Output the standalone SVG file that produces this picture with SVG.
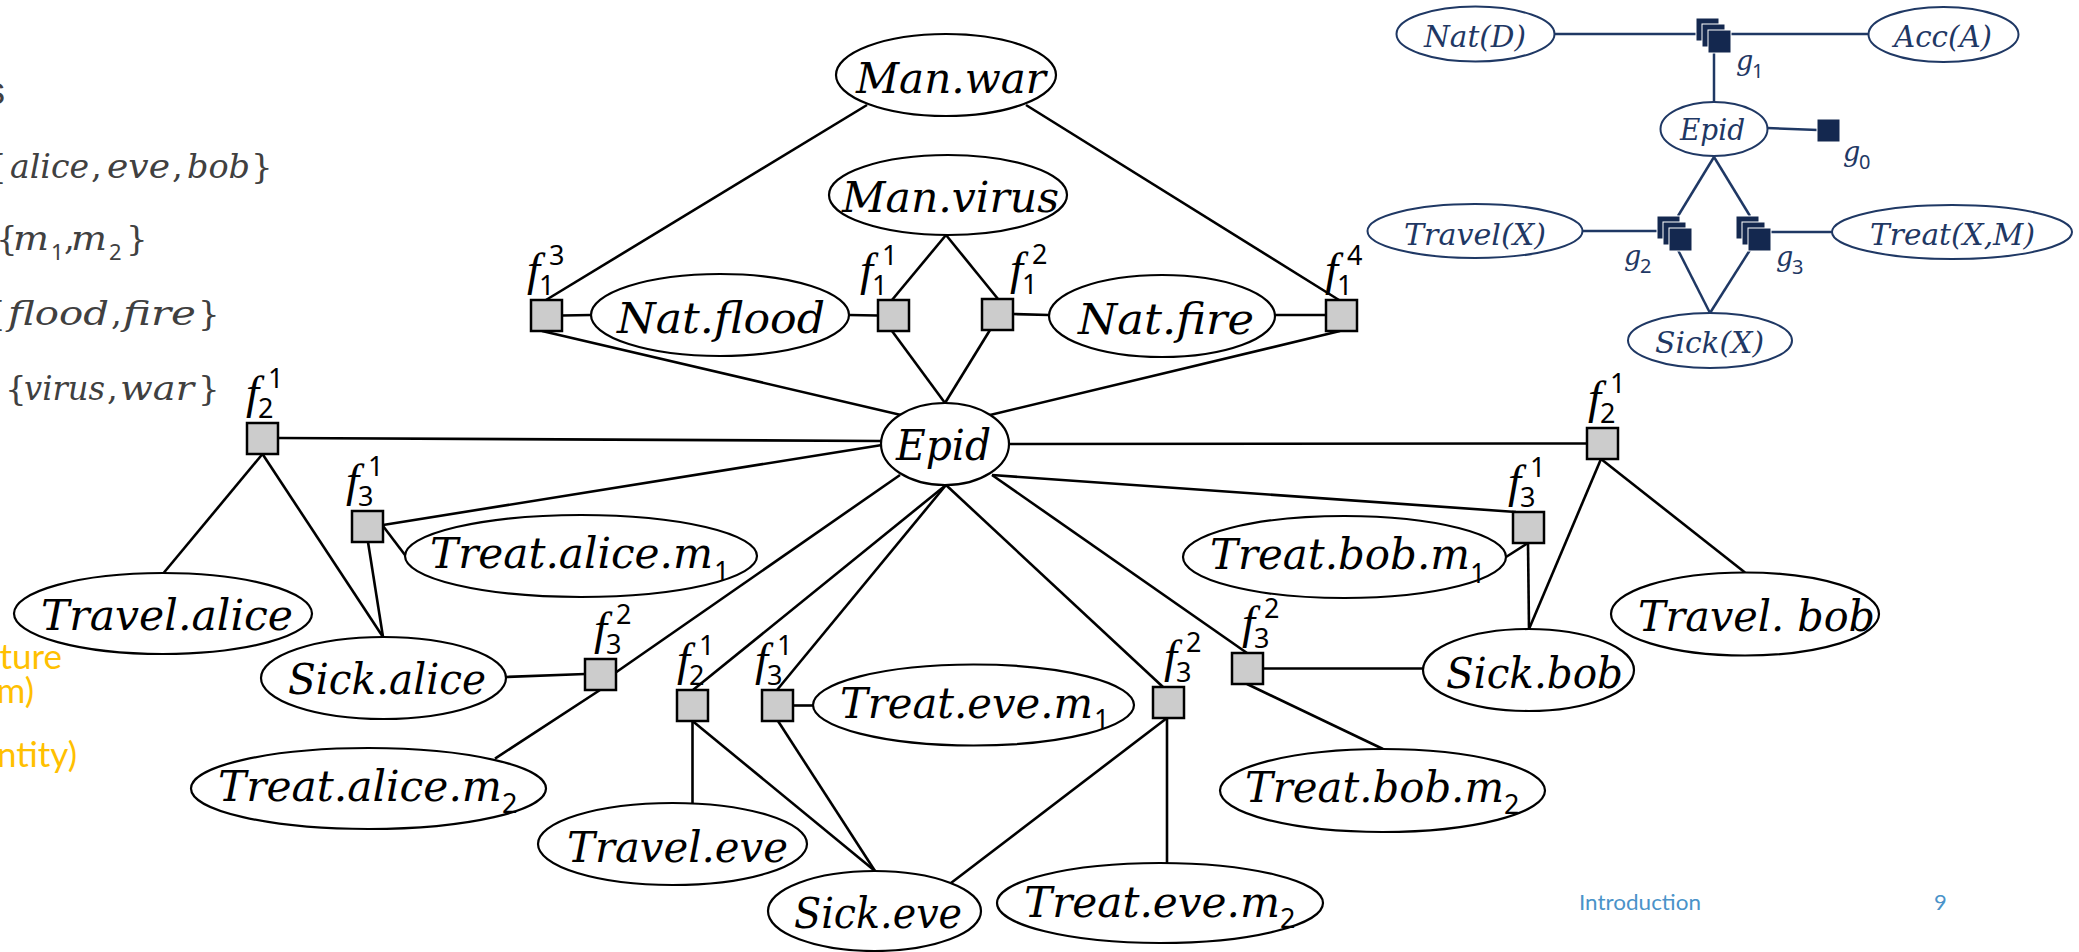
<svg xmlns="http://www.w3.org/2000/svg" width="2079" height="952" viewBox="0 0 2079 952">
<style>
.e{fill:#fff;stroke:#000;stroke-width:2.2}
.b{fill:#cccccc;stroke:#000;stroke-width:2.5}
.c line{stroke:#000;stroke-width:2.6}
.t{font-family:"DejaVu Serif",serif;font-style:italic;font-size:43px;fill:#000}
.d{font-family:"Noto Sans",sans-serif;font-size:27px;fill:#000}
.f{font-family:"Liberation Serif",serif;font-style:italic;font-size:47px;fill:#000}
.gi{font-family:"DejaVu Serif",serif;font-style:italic;font-size:34px;fill:#404040}
.gu{font-family:"DejaVu Serif",serif;font-size:34px;fill:#404040}
.gd{font-family:"Noto Sans",sans-serif;font-size:22px;fill:#404040}
.or{font-family:Lato,"Open Sans",sans-serif;font-size:35px;fill:#FFC000}
.ft{font-family:Lato,"Open Sans",sans-serif;font-size:22px;fill:#4A93C9}
.ne{fill:#fff;stroke:#1F3864;stroke-width:2}
.nt{font-family:"DejaVu Serif",serif;font-style:italic;font-size:29px;fill:#1F3864}
.ng{font-family:"DejaVu Serif",serif;font-style:italic;font-size:27px;fill:#1F3864}
.nd{font-family:"Noto Sans",sans-serif;font-size:20px;fill:#1F3864}
.nc line{stroke:#1F3864;stroke-width:2.5}
.sq{fill:#14284F;stroke:#fff;stroke-width:1}
</style>
<rect width="2079" height="952" fill="#fff"/>

<!-- left slide text -->
<g id="slide-text">
<text x="5" y="104" text-anchor="end" style="font-family:'Liberation Sans',sans-serif;font-size:38px;fill:#404040">s</text>
<text class="gu" x="7" y="178" text-anchor="end">{</text>
<text class="gi" x="10" y="178" textLength="79" lengthAdjust="spacingAndGlyphs">alice</text>
<text class="gu" x="91" y="178">,</text>
<text class="gi" x="107" y="178" textLength="63" lengthAdjust="spacingAndGlyphs">eve</text>
<text class="gu" x="172" y="178">,</text>
<text class="gi" x="187" y="178" textLength="63" lengthAdjust="spacingAndGlyphs">bob</text>
<text class="gu" x="251" y="178">}</text>

<text class="gu" x="-4" y="250">{</text>
<text class="gi" x="13" y="250" textLength="36" lengthAdjust="spacingAndGlyphs">m</text>
<text class="gd" x="51" y="260">1</text>
<text class="gu" x="64" y="250">,</text>
<text class="gi" x="71" y="250" textLength="36" lengthAdjust="spacingAndGlyphs">m</text>
<text class="gd" x="109" y="260">2</text>
<text class="gu" x="126" y="250">}</text>

<text class="gu" x="6" y="325" text-anchor="end">{</text>
<text class="gi" x="8" y="325" textLength="101" lengthAdjust="spacingAndGlyphs">flood</text>
<text class="gu" x="111" y="325">,</text>
<text class="gi" x="123" y="325" textLength="73" lengthAdjust="spacingAndGlyphs">fire</text>
<text class="gu" x="198" y="325">}</text>

<text class="gu" x="5" y="400">{</text>
<text class="gi" x="24" y="400" textLength="81" lengthAdjust="spacingAndGlyphs">virus</text>
<text class="gu" x="107" y="400">,</text>
<text class="gi" x="120" y="400" textLength="74" lengthAdjust="spacingAndGlyphs">war</text>
<text class="gu" x="198" y="400">}</text>

<text class="or" x="62" y="669" text-anchor="end">ture</text>
<text class="or" x="34" y="703" text-anchor="end">m)</text>
<text class="or" x="77" y="767" text-anchor="end">ntity)</text>

<text class="ft" x="1579" y="910" textLength="122" lengthAdjust="spacingAndGlyphs">Introduction</text>
<text class="ft" x="1934" y="910">9</text>
</g>

<!-- connectors of ground graph -->
<g id="connectors" class="c">
<line x1="867" y1="105" x2="546" y2="300"/>
<line x1="1026" y1="105" x2="1339" y2="300"/>
<line x1="946" y1="235" x2="892" y2="300"/>
<line x1="946" y1="235" x2="998" y2="299"/>
<line x1="562" y1="315.5" x2="591" y2="315"/>
<line x1="849" y1="315" x2="878" y2="315.5"/>
<line x1="1013" y1="314" x2="1049" y2="315"/>
<line x1="1275" y1="315" x2="1326" y2="315"/>
<line x1="542" y1="331" x2="901" y2="415"/>
<line x1="892" y1="331" x2="945" y2="403"/>
<line x1="990" y1="330" x2="945" y2="403"/>
<line x1="1340" y1="331" x2="990" y2="415"/>
<line x1="278" y1="438" x2="881" y2="441"/>
<line x1="383" y1="525" x2="882" y2="445"/>
<line x1="1009" y1="444" x2="1587" y2="443.5"/>
<line x1="992" y1="475" x2="1516" y2="512"/>
<line x1="992" y1="475" x2="1247" y2="653"/>
<line x1="946" y1="485" x2="1163" y2="687"/>
<line x1="946" y1="485" x2="693" y2="690"/>
<line x1="946" y1="485" x2="777" y2="690"/>
<line x1="900" y1="475" x2="615" y2="673"/>
<line x1="600" y1="690" x2="495" y2="758.6"/>
<line x1="585" y1="674" x2="506" y2="677"/>
<line x1="262.5" y1="454" x2="163.6" y2="573"/>
<line x1="262.5" y1="454" x2="383" y2="637"/>
<line x1="368" y1="542" x2="383" y2="637"/>
<line x1="383" y1="526" x2="405" y2="555"/>
<line x1="692.5" y1="721" x2="692.5" y2="803"/>
<line x1="692.5" y1="721" x2="875" y2="871"/>
<line x1="778" y1="721" x2="875" y2="871"/>
<line x1="793" y1="705.5" x2="813" y2="705.5"/>
<line x1="1167" y1="718" x2="951" y2="883"/>
<line x1="1167" y1="718" x2="1167" y2="863"/>
<line x1="1263" y1="668.5" x2="1423" y2="668.5"/>
<line x1="1247" y1="684" x2="1383" y2="749"/>
<line x1="1528" y1="543" x2="1506" y2="557"/>
<line x1="1528" y1="543" x2="1529" y2="629"/>
<line x1="1601" y1="459" x2="1529" y2="629"/>
<line x1="1601" y1="459" x2="1745" y2="572.5"/>
</g>

<!-- variable nodes -->
<g id="man-war"><ellipse class="e" cx="946" cy="75" rx="110" ry="41"/><text class="t" x="856" y="93" textLength="190" lengthAdjust="spacingAndGlyphs">Man.war</text></g>
<g id="man-virus"><ellipse class="e" cx="948" cy="195" rx="119" ry="40"/><text class="t" x="842" y="212" textLength="217" lengthAdjust="spacingAndGlyphs">Man.virus</text></g>
<g id="nat-flood"><ellipse class="e" cx="720" cy="315" rx="129" ry="41"/><text class="t" x="617" y="333" textLength="208" lengthAdjust="spacingAndGlyphs">Nat.flood</text></g>
<g id="nat-fire"><ellipse class="e" cx="1162" cy="316" rx="113" ry="41"/><text class="t" x="1078" y="334" textLength="176" lengthAdjust="spacingAndGlyphs">Nat.fire</text></g>
<g id="epid"><ellipse class="e" cx="945" cy="444" rx="64" ry="41"/><text class="t" x="896" y="460" textLength="95" lengthAdjust="spacingAndGlyphs">Epid</text></g>
<g id="treat-alice-m1"><ellipse class="e" cx="581" cy="556" rx="176" ry="41"/><text class="t" x="430" y="568" textLength="283" lengthAdjust="spacingAndGlyphs">Treat.alice.m</text><text class="d" x="714" y="581">1</text></g>
<g id="travel-alice"><ellipse class="e" cx="163" cy="613.5" rx="149" ry="40.5"/><text class="t" x="41" y="630" textLength="252" lengthAdjust="spacingAndGlyphs">Travel.alice</text></g>
<g id="sick-alice"><ellipse class="e" cx="383.5" cy="678" rx="122.5" ry="41"/><text class="t" x="288" y="694" textLength="198" lengthAdjust="spacingAndGlyphs">Sick.alice</text></g>
<g id="treat-alice-m2"><ellipse class="e" cx="368.5" cy="788.5" rx="177.5" ry="40.5"/><text class="t" x="218" y="801" textLength="284" lengthAdjust="spacingAndGlyphs">Treat.alice.m</text><text class="d" x="502" y="813">2</text></g>
<g id="travel-eve"><ellipse class="e" cx="672.5" cy="844" rx="134.5" ry="41"/><text class="t" x="567" y="862" textLength="221" lengthAdjust="spacingAndGlyphs">Travel.eve</text></g>
<g id="sick-eve"><ellipse class="e" cx="874.5" cy="911" rx="106.5" ry="40"/><text class="t" x="794" y="928" textLength="168" lengthAdjust="spacingAndGlyphs">Sick.eve</text></g>
<g id="treat-eve-m1"><ellipse class="e" cx="973.5" cy="705" rx="160.5" ry="40.5"/><text class="t" x="840" y="718" textLength="253" lengthAdjust="spacingAndGlyphs">Treat.eve.m</text><text class="d" x="1094" y="729">1</text></g>
<g id="treat-eve-m2"><ellipse class="e" cx="1160" cy="903" rx="163" ry="40"/><text class="t" x="1024" y="917" textLength="256" lengthAdjust="spacingAndGlyphs">Treat.eve.m</text><text class="d" x="1280" y="928">2</text></g>
<g id="treat-bob-m1"><ellipse class="e" cx="1344.5" cy="557" rx="161.5" ry="41"/><text class="t" x="1210" y="569" textLength="260" lengthAdjust="spacingAndGlyphs">Treat.bob.m</text><text class="d" x="1470" y="583">1</text></g>
<g id="travel-bob"><ellipse class="e" cx="1745" cy="614" rx="134" ry="41.5"/><text class="t" x="1638" y="631" textLength="237" lengthAdjust="spacingAndGlyphs">Travel. bob</text></g>
<g id="sick-bob"><ellipse class="e" cx="1528.5" cy="670" rx="105.5" ry="41"/><text class="t" x="1446" y="688" textLength="177" lengthAdjust="spacingAndGlyphs">Sick.bob</text></g>
<g id="treat-bob-m2"><ellipse class="e" cx="1382.5" cy="790.5" rx="162.5" ry="41.5"/><text class="t" x="1245" y="802" textLength="259" lengthAdjust="spacingAndGlyphs">Treat.bob.m</text><text class="d" x="1504" y="814">2</text></g>

<!-- factor nodes -->
<g id="f1-3"><rect class="b" x="531" y="300" width="31" height="31"/><text class="f" x="527" y="285">f</text><text class="d" x="539" y="295">1</text><text class="d" x="549" y="265">3</text></g>
<g id="f1-1"><rect class="b" x="878" y="300" width="31" height="31"/><text class="f" x="860" y="285">f</text><text class="d" x="872" y="295">1</text><text class="d" x="882" y="265">1</text></g>
<g id="f1-2"><rect class="b" x="982" y="299" width="31" height="31"/><text class="f" x="1010" y="284">f</text><text class="d" x="1022" y="294">1</text><text class="d" x="1032" y="264">2</text></g>
<g id="f1-4"><rect class="b" x="1326" y="300" width="31" height="31"/><text class="f" x="1325" y="285">f</text><text class="d" x="1337" y="295">1</text><text class="d" x="1347" y="265">4</text></g>
<g id="f2-1-alice"><rect class="b" x="247" y="423" width="31" height="31"/><text class="f" x="246" y="408">f</text><text class="d" x="258" y="418">2</text><text class="d" x="268" y="388">1</text></g>
<g id="f3-1-alice"><rect class="b" x="352" y="511" width="31" height="31"/><text class="f" x="346" y="496">f</text><text class="d" x="358" y="506">3</text><text class="d" x="368" y="476">1</text></g>
<g id="f3-2-alice"><rect class="b" x="585" y="659" width="31" height="31"/><text class="f" x="594" y="644">f</text><text class="d" x="606" y="654">3</text><text class="d" x="616" y="624">2</text></g>
<g id="f2-1-eve"><rect class="b" x="677" y="690" width="31" height="31"/><text class="f" x="677" y="675">f</text><text class="d" x="689" y="685">2</text><text class="d" x="699" y="655">1</text></g>
<g id="f3-1-eve"><rect class="b" x="762" y="690" width="31" height="31"/><text class="f" x="755" y="675">f</text><text class="d" x="767" y="685">3</text><text class="d" x="777" y="655">1</text></g>
<g id="f3-2-eve"><rect class="b" x="1153" y="687" width="31" height="31"/><text class="f" x="1164" y="672">f</text><text class="d" x="1176" y="682">3</text><text class="d" x="1186" y="652">2</text></g>
<g id="f3-2-bob"><rect class="b" x="1232" y="653" width="31" height="31"/><text class="f" x="1242" y="638">f</text><text class="d" x="1254" y="648">3</text><text class="d" x="1264" y="618">2</text></g>
<g id="f3-1-bob"><rect class="b" x="1513" y="512" width="31" height="31"/><text class="f" x="1508" y="497">f</text><text class="d" x="1520" y="507">3</text><text class="d" x="1530" y="477">1</text></g>
<g id="f2-1-bob"><rect class="b" x="1587" y="428" width="31" height="31"/><text class="f" x="1588" y="413">f</text><text class="d" x="1600" y="423">2</text><text class="d" x="1610" y="393">1</text></g>

<!-- lifted (parfactor) graph, top right -->
<g id="lifted-connectors" class="nc">
<line x1="1555" y1="34" x2="1697" y2="34"/>
<line x1="1731" y1="34" x2="1869" y2="34"/>
<line x1="1714" y1="53" x2="1714" y2="102"/>
<line x1="1767" y1="128" x2="1818" y2="130"/>
<line x1="1714" y1="157" x2="1678" y2="216"/>
<line x1="1714" y1="157" x2="1750" y2="216"/>
<line x1="1582" y1="231" x2="1657" y2="231"/>
<line x1="1771" y1="232" x2="1833" y2="232"/>
<line x1="1678" y1="250" x2="1710" y2="313"/>
<line x1="1750" y1="250" x2="1710" y2="313"/>
</g>
<g id="nat-d"><ellipse class="ne" cx="1475.5" cy="34" rx="79" ry="27.5"/><text class="nt" x="1424" y="47" textLength="102" lengthAdjust="spacingAndGlyphs">Nat(D)</text></g>
<g id="acc-a"><ellipse class="ne" cx="1943.5" cy="34.5" rx="75" ry="27.5"/><text class="nt" x="1894" y="47" textLength="98" lengthAdjust="spacingAndGlyphs">Acc(A)</text></g>
<g id="epid-lifted"><ellipse class="ne" cx="1714" cy="129" rx="53.5" ry="27"/><text class="nt" x="1680" y="140" textLength="65" lengthAdjust="spacingAndGlyphs">Epid</text></g>
<g id="travel-x"><ellipse class="ne" cx="1475" cy="231" rx="107.5" ry="27"/><text class="nt" x="1404" y="245" textLength="142" lengthAdjust="spacingAndGlyphs">Travel(X)</text></g>
<g id="treat-xm"><ellipse class="ne" cx="1952" cy="232" rx="120" ry="27"/><text class="nt" x="1870" y="245" textLength="165" lengthAdjust="spacingAndGlyphs">Treat(X,M)</text></g>
<g id="sick-x"><ellipse class="ne" cx="1710" cy="340.5" rx="82" ry="27.5"/><text class="nt" x="1655" y="353" textLength="109" lengthAdjust="spacingAndGlyphs">Sick(X)</text></g>
<g id="g1"><rect class="sq" x="1696" y="18" width="23" height="23"/><rect class="sq" x="1702" y="24" width="23" height="23"/><rect class="sq" x="1708" y="30" width="23" height="23"/><text class="ng" x="1736" y="70">g</text><text class="nd" x="1752" y="78">1</text></g>
<g id="g0"><rect class="sq" x="1817" y="119" width="23" height="23"/><text class="ng" x="1843" y="161">g</text><text class="nd" x="1859" y="169">0</text></g>
<g id="g2"><rect class="sq" x="1657" y="216" width="23" height="23"/><rect class="sq" x="1663" y="222" width="23" height="23"/><rect class="sq" x="1669" y="228" width="23" height="23"/><text class="ng" x="1624" y="265">g</text><text class="nd" x="1640" y="273">2</text></g>
<g id="g3"><rect class="sq" x="1736" y="216" width="23" height="23"/><rect class="sq" x="1742" y="222" width="23" height="23"/><rect class="sq" x="1748" y="228" width="23" height="23"/><text class="ng" x="1776" y="266">g</text><text class="nd" x="1792" y="274">3</text></g>
</svg>
